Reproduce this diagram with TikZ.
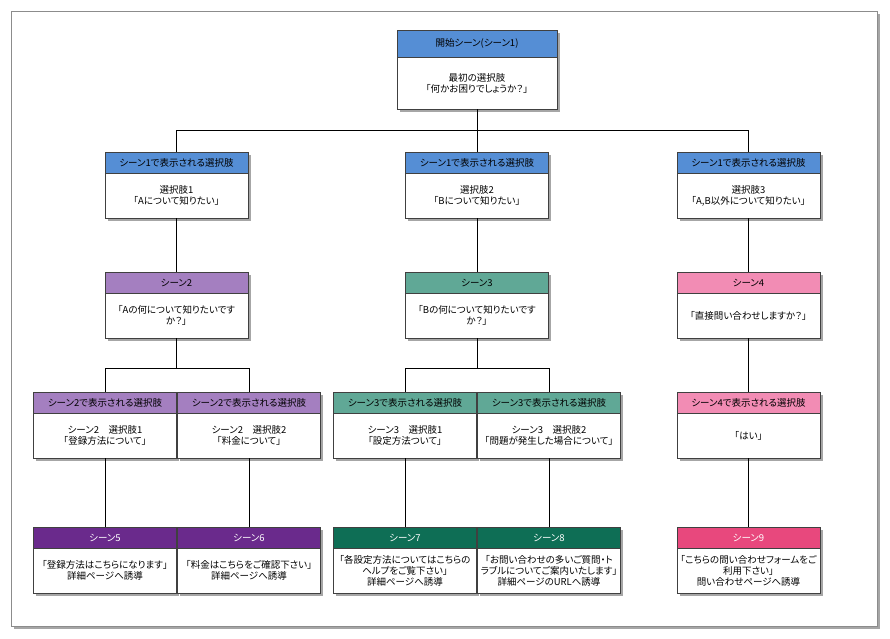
\documentclass[tikz,border=0pt]{standalone}
\usepackage{fontspec}
\setmainfont{Noto Sans CJK JP}[RawFeature=+palt]
\usetikzlibrary{positioning,shadows}

\definecolor{hblue}{RGB}{85,142,213}
\definecolor{lpurple}{RGB}{164,127,192}
\definecolor{lteal}{RGB}{96,168,150}
\definecolor{lpink}{RGB}{242,140,180}
\definecolor{dpurple}{RGB}{106,42,140}
\definecolor{dgreen}{RGB}{14,110,85}
\definecolor{dpink}{RGB}{232,72,125}

\begin{document}
\begin{tikzpicture}[x=1pt,y=-1pt,
  every node/.style={inner sep=0pt, outer sep=0pt, align=center,
    font=\fontsize{9.5}{11}\selectfont},
  shd/.style={drop shadow={shadow xshift=2.5pt, shadow yshift=-2.5pt, opacity=0.35, fill=black}},
  hd/.style={draw=black!75, line width=0.6pt, minimum width=143pt, minimum height=21pt, shd},
  bd/.style={draw=black!75, line width=0.6pt, fill=white, minimum width=143pt, minimum height=45pt, shd},
  dk/.style={hd, text=white},
  link/.style={draw=black, line width=0.6pt}]
\fill [white] (0,0) rectangle (890,638);
\useasboundingbox (0,0) rectangle (890,638);
\draw [black!45, line width=1pt, fill=white, shd] (11,11) rectangle (877,626);

% start scene
\node [hd, fill=hblue, minimum width=160pt, minimum height=27pt] (s1h) at (477,43.5) {開始シーン(シーン1)};
\node [bd, minimum width=160pt, minimum height=52pt, below=0pt of s1h] (s1) {最初の選択肢\\「何かお困りでしょうか？」};

% choices of scene 1
\node [hd, fill=hblue] (c1h) at (176.5,162.5) {シーン1で表示される選択肢};
\node [bd, below=0pt of c1h] (c1) {選択肢1\\「Aについて知りたい」};
\node [hd, fill=hblue] (c2h) at (477,162.5) {シーン1で表示される選択肢};
\node [bd, below=0pt of c2h] (c2) {選択肢2\\「Bについて知りたい」};
\node [hd, fill=hblue] (c3h) at (748.5,162.5) {シーン1で表示される選択肢};
\node [bd, below=0pt of c3h] (c3) {選択肢3\\「A,B以外について知りたい」};

% scenes 2-4
\node [hd, fill=lpurple] (s2h) at (176.5,282.5) {シーン2};
\node [bd, below=0pt of s2h] (s2) {「Aの何について知りたいです\\か？」};
\node [hd, fill=lteal] (s3h) at (477,282.5) {シーン3};
\node [bd, below=0pt of s3h] (s3) {「Bの何について知りたいです\\か？」};
\node [hd, fill=lpink] (s4h) at (748.5,282.5) {シーン4};
\node [bd, below=0pt of s4h] (s4) {「直接問い合わせしますか？」};

% choices of scenes 2-4
\node [hd, fill=lpurple] (d1h) at (105,402.5) {シーン2で表示される選択肢};
\node [bd, below=0pt of d1h] (d1) {シーン2　選択肢1\\「登録方法について」};
\node [hd, fill=lpurple] (d2h) at (249,402.5) {シーン2で表示される選択肢};
\node [bd, below=0pt of d2h] (d2) {シーン2　選択肢2\\「料金について」};
\node [hd, fill=lteal] (d3h) at (405,402.5) {シーン3で表示される選択肢};
\node [bd, below=0pt of d3h] (d3) {シーン3　選択肢1\\「設定方法ついて」};
\node [hd, fill=lteal] (d4h) at (549,402.5) {シーン3で表示される選択肢};
\node [bd, below=0pt of d4h] (d4) {シーン3　選択肢2\\「問題が発生した場合について」};
\node [hd, fill=lpink] (d5h) at (748.5,402.5) {シーン4で表示される選択肢};
\node [bd, below=0pt of d5h] (d5) {「はい」};

% scenes 5-9
\node [dk, fill=dpurple] (s5h) at (105,537.5) {シーン5};
\node [bd, below=0pt of s5h] (s5) {「登録方法はこちらになります」\\詳細ページへ誘導};
\node [dk, fill=dpurple] (s6h) at (249,537.5) {シーン6};
\node [bd, below=0pt of s6h] (s6) {「料金はこちらをご確認下さい」\\詳細ページへ誘導};
\node [dk, fill=dgreen] (s7h) at (405,537.5) {シーン7};
\node [bd, below=0pt of s7h] (s7) {「各設定方法についてはこちらの\\ヘルプをご覧下さい」\\詳細ページへ誘導};
\node [dk, fill=dgreen] (s8h) at (549,537.5) {シーン8};
\node [bd, below=0pt of s8h] (s8) {「お問い合わせの多いご質問・ト\\ラブルについてご案内いたします」\\詳細ページのURLへ誘導};
\node [dk, fill=dpink] (s9h) at (748.5,537.5) {シーン9};
\node [bd, below=0pt of s9h] (s9) {「こちらの問い合わせフォームをご\\利用下さい」\\問い合わせページへ誘導};

% links
\draw [link] (s1.south) -- ++(0,21) -| (c1h.north);
\draw [link] (s1.south) -- ++(0,21) -| (c3h.north);
\draw [link] (s1.south) -- (c2h.north);
\draw [link] (c1.south) -- (s2h.north);
\draw [link] (c2.south) -- (s3h.north);
\draw [link] (c3.south) -- (s4h.north);
\draw [link] (s2.south) -- ++(0,30) -| (d1h.north);
\draw [link] (s2.south) -- ++(0,30) -| (d2h.north);
\draw [link] (s3.south) -- ++(0,30) -| (d3h.north);
\draw [link] (s3.south) -- ++(0,30) -| (d4h.north);
\draw [link] (s4.south) -- (d5h.north);
\draw [link] (d1.south) -- (s5h.north);
\draw [link] (d2.south) -- (s6h.north);
\draw [link] (d3.south) -- (s7h.north);
\draw [link] (d4.south) -- (s8h.north);
\draw [link] (d5.south) -- (s9h.north);
\end{tikzpicture}
\end{document}
